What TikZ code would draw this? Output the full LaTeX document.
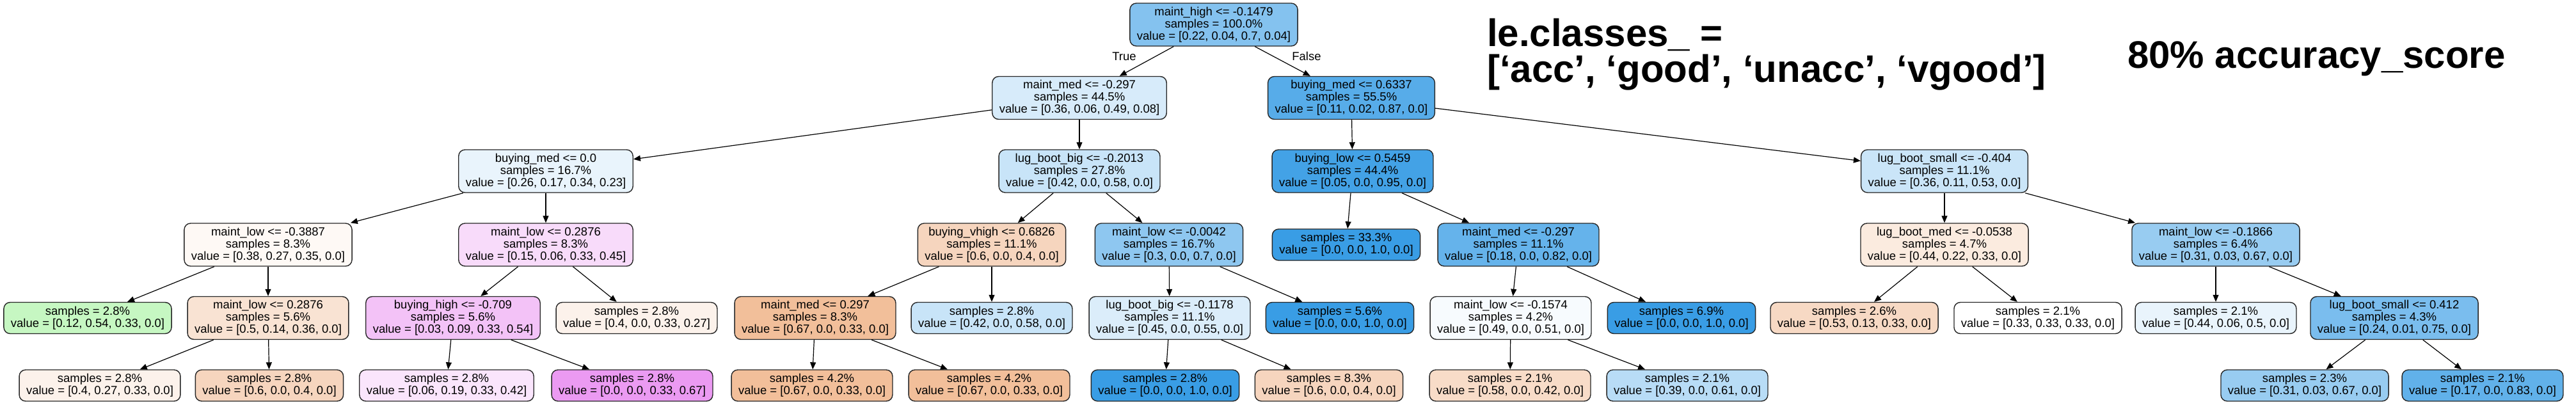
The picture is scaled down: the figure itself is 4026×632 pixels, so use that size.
\documentclass[tikz,border=0pt]{standalone}
\usepackage{fontspec}
\setmainfont{Liberation Sans}
\usetikzlibrary{arrows.meta}
\definecolor{accC}{HTML}{E58139}
\definecolor{goodC}{HTML}{47E539}
\definecolor{unaccC}{HTML}{399DE5}
\definecolor{vgoodC}{HTML}{D739E5}
\tikzset{
  treenode/.style={draw=black!85,line width=1.4pt,rounded corners=10pt,align=center,
    inner xsep=11pt,inner ysep=0pt,font=\fontsize{18.5}{19}\selectfont},
  splitnode/.style={treenode,minimum height=67pt},
  leafnode/.style={treenode,minimum height=49pt},
  treeedge/.style={line width=1.2pt,-{Triangle[length=11pt,width=9pt]}},
  bigtext/.style={anchor=base west,inner sep=0pt,font=\bfseries\fontsize{60}{56}\selectfont}
}
\begin{document}
\begin{tikzpicture}[x=1pt,y=-1pt]
  \path[fill=white,use as bounding box] (0,0) rectangle (4026,632);
  % depth 0 and 1
  \node[splitnode,fill=unaccC!62] (root) at (1897,38.5) {maint\_high <= -0.1479\\samples = 100.0\%\\value = [0.22, 0.04, 0.7, 0.04]};
  \node[splitnode,fill=unaccC!20] (A) at (1687,153) {maint\_med <= -0.297\\samples = 44.5\%\\value = [0.36, 0.06, 0.49, 0.08]};
  \node[splitnode,fill=unaccC!85] (L) at (2112,153) {buying\_med <= 0.6337\\samples = 55.5\%\\value = [0.11, 0.02, 0.87, 0.0]};
  % depth 2
  \node[splitnode,fill=unaccC!11] (B) at (853,267.5) {buying\_med <= 0.0\\samples = 16.7\%\\value = [0.26, 0.17, 0.34, 0.23]};
  \node[splitnode,fill=unaccC!28] (G) at (1687,267.5) {lug\_boot\_big <= -0.2013\\samples = 27.8\%\\value = [0.42, 0.0, 0.58, 0.0]};
  \node[splitnode,fill=unaccC!95] (M) at (2114,267.5) {buying\_low <= 0.5459\\samples = 44.4\%\\value = [0.05, 0.0, 0.95, 0.0]};
  \node[splitnode,fill=unaccC!27] (P) at (3039,267.5) {lug\_boot\_small <= -0.404\\samples = 11.1\%\\value = [0.36, 0.11, 0.53, 0.0]};
  % depth 3
  \node[splitnode,fill=accC!5] (C) at (419,382.5) {maint\_low <= -0.3887\\samples = 8.3\%\\value = [0.38, 0.27, 0.35, 0.0]};
  \node[splitnode,fill=vgoodC!18] (E) at (853,382.5) {maint\_low <= 0.2876\\samples = 8.3\%\\value = [0.15, 0.06, 0.33, 0.45]};
  \node[splitnode,fill=accC!33] (H) at (1550,382.5) {buying\_vhigh <= 0.6826\\samples = 11.1\%\\value = [0.6, 0.0, 0.4, 0.0]};
  \node[splitnode,fill=unaccC!57] (J) at (1827,382.5) {maint\_low <= -0.0042\\samples = 16.7\%\\value = [0.3, 0.0, 0.7, 0.0]};
  \node[leafnode,fill=unaccC] (leafMa) at (2104,382.5) {samples = 33.3\%\\value = [0.0, 0.0, 1.0, 0.0]};
  \node[splitnode,fill=unaccC!78] (N) at (2373,382.5) {maint\_med <= -0.297\\samples = 11.1\%\\value = [0.18, 0.0, 0.82, 0.0]};
  \node[splitnode,fill=accC!16] (Q) at (3039,382.5) {lug\_boot\_med <= -0.0538\\samples = 4.7\%\\value = [0.44, 0.22, 0.33, 0.0]};
  \node[splitnode,fill=unaccC!52] (R) at (3463,382.5) {maint\_low <= -0.1866\\samples = 6.4\%\\value = [0.31, 0.03, 0.67, 0.0]};
  % depth 4
  \node[leafnode,fill=goodC!31] (leafCa) at (137,497) {samples = 2.8\%\\value = [0.12, 0.54, 0.33, 0.0]};
  \node[splitnode,fill=accC!22] (D) at (419,497) {maint\_low <= 0.2876\\samples = 5.6\%\\value = [0.5, 0.14, 0.36, 0.0]};
  \node[splitnode,fill=vgoodC!31] (F) at (708,497) {buying\_high <= -0.709\\samples = 5.6\%\\value = [0.03, 0.09, 0.33, 0.54]};
  \node[leafnode,fill=accC!10] (leafEb) at (995,497) {samples = 2.8\%\\value = [0.4, 0.0, 0.33, 0.27]};
  \node[splitnode,fill=accC!51] (I) at (1274,497) {maint\_med <= 0.297\\samples = 8.3\%\\value = [0.67, 0.0, 0.33, 0.0]};
  \node[leafnode,fill=unaccC!28] (leafHb) at (1550,497) {samples = 2.8\%\\value = [0.42, 0.0, 0.58, 0.0]};
  \node[splitnode,fill=unaccC!18] (K) at (1828,497) {lug\_boot\_big <= -0.1178\\samples = 11.1\%\\value = [0.45, 0.0, 0.55, 0.0]};
  \node[leafnode,fill=unaccC] (leafJb) at (2094,497) {samples = 5.6\%\\value = [0.0, 0.0, 1.0, 0.0]};
  \node[splitnode,fill=unaccC!4] (O) at (2361,497) {maint\_low <= -0.1574\\samples = 4.2\%\\value = [0.49, 0.0, 0.51, 0.0]};
  \node[leafnode,fill=unaccC] (leafNb) at (2628,497) {samples = 6.9\%\\value = [0.0, 0.0, 1.0, 0.0]};
  \node[leafnode,fill=accC!30] (leafQa) at (2898,497) {samples = 2.6\%\\value = [0.53, 0.13, 0.33, 0.0]};
  \node[leafnode,fill=white] (leafQb) at (3185,497) {samples = 2.1\%\\value = [0.33, 0.33, 0.33, 0.0]};
  \node[leafnode,fill=unaccC!11] (leafRa) at (3463,497) {samples = 2.1\%\\value = [0.44, 0.06, 0.5, 0.0]};
  \node[splitnode,fill=unaccC!67] (S) at (3742,497) {lug\_boot\_small <= 0.412\\samples = 4.3\%\\value = [0.24, 0.01, 0.75, 0.0]};
  % depth 5
  \node[leafnode,fill=accC!10] (leafDa) at (156,602.5) {samples = 2.8\%\\value = [0.4, 0.27, 0.33, 0.0]};
  \node[leafnode,fill=accC!33] (leafDb) at (421,602.5) {samples = 2.8\%\\value = [0.6, 0.0, 0.4, 0.0]};
  \node[leafnode,fill=vgoodC!13] (leafFa) at (698,602.5) {samples = 2.8\%\\value = [0.06, 0.19, 0.33, 0.42]};
  \node[leafnode,fill=vgoodC!51] (leafFb) at (988,602.5) {samples = 2.8\%\\value = [0.0, 0.0, 0.33, 0.67]};
  \node[leafnode,fill=accC!51] (leafIa) at (1269,602.5) {samples = 4.2\%\\value = [0.67, 0.0, 0.33, 0.0]};
  \node[leafnode,fill=accC!51] (leafIb) at (1546,602.5) {samples = 4.2\%\\value = [0.67, 0.0, 0.33, 0.0]};
  \node[leafnode,fill=unaccC] (leafKa) at (1821,602.5) {samples = 2.8\%\\value = [0.0, 0.0, 1.0, 0.0]};
  \node[leafnode,fill=accC!33] (leafKb) at (2077,602.5) {samples = 8.3\%\\value = [0.6, 0.0, 0.4, 0.0]};
  \node[leafnode,fill=accC!28] (leafOa) at (2360,602.5) {samples = 2.1\%\\value = [0.58, 0.0, 0.42, 0.0]};
  \node[leafnode,fill=unaccC!36] (leafOb) at (2637,602.5) {samples = 2.1\%\\value = [0.39, 0.0, 0.61, 0.0]};
  \node[leafnode,fill=unaccC!52] (leafSa) at (3602,602.5) {samples = 2.3\%\\value = [0.31, 0.03, 0.67, 0.0]};
  \node[leafnode,fill=unaccC!80] (leafSb) at (3880,602.5) {samples = 2.1\%\\value = [0.17, 0.0, 0.83, 0.0]};
  % edges
  \foreach \a/\b in {root/A,root/L,A/B,A/G,L/M,L/P,B/C,B/E,G/H,G/J,M/leafMa,M/N,P/Q,P/R,
      C/leafCa,C/D,E/F,E/leafEb,H/I,H/leafHb,J/K,J/leafJb,N/O,N/leafNb,Q/leafQa,Q/leafQb,R/leafRa,R/S,
      D/leafDa,D/leafDb,F/leafFa,F/leafFb,I/leafIa,I/leafIb,K/leafKa,K/leafKb,O/leafOa,O/leafOb,S/leafSa,S/leafSb}
    \draw[treeedge] (\a) -- (\b);
  \node[font=\fontsize{18.5}{19}\selectfont] (lblTrue) at (1757,88) {True};
  \node[font=\fontsize{18.5}{19}\selectfont] (lblFalse) at (2042,88) {False};
  % annotations
  \node[bigtext] (classesA) at (2324,72) {le.classes\_ =};
  \node[bigtext] (classesB) at (2324,128) {[‘acc’, ‘good’, ‘unacc’, ‘vgood’]};
  \node[bigtext] (accuracy) at (3325,106) {80\% accuracy\_score};
\end{tikzpicture}
\end{document}
